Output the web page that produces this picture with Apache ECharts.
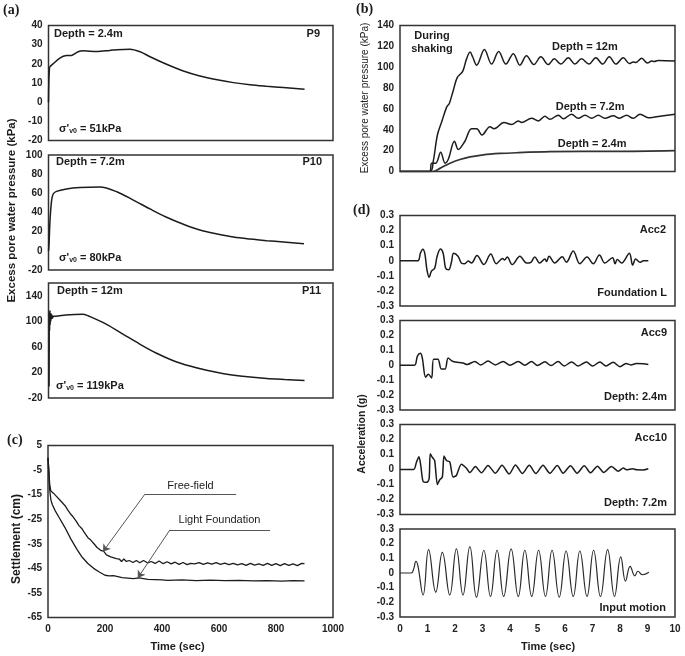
<!DOCTYPE html>
<html><head><meta charset="utf-8">
<style>html,body{margin:0;padding:0;background:#fff}#c{width:685px;height:656px}</style>
<script src="https://cdn.jsdelivr.net/npm/echarts@6/dist/echarts.min.js"></script>
</head><body><div id="c"></div>
<script>
// ---- data ----
const p9Time=[0,1,3,5,16,40,63,81,104,122,169,215,240,286,322,357,415,474,532,593,650,708,767,825,900];
const p9Pressure=[0,10,17,18.5,20,23,24.3,24.4,26.3,26.8,26.4,27,27.4,27.6,26.3,23.7,19.8,16.3,13.7,11.7,10.2,9.1,8.3,7.6,6.7];
const p10Time=[0,2,5,10,16,28,63,110,181,240,298,357,415,474,532,593,650,708,767,825,898];
const p10Pressure=[0,8,30,50,59,62,64.5,66,66.6,61.7,53,43.7,35,27.7,21.7,17.6,14.4,12.3,10.6,9.2,7.4];
const p11Time=[2,3,4,5,6,7,8,9,10,12,14,17,25,60,122,146,204,263,322,380,439,497,556,616,673,767,830,900];
const p11Pressure=[-2,115,85,117,95,112,100,112,104,110,105,108,108,110,111,107.3,95.3,79.7,64,50,38.4,30,23.3,18,14.4,10.5,9,7.5];
const freeTime=[0,3,6,10,14,20,28,32,40,48,52,60,68,72,80,88,92,100,108,112,120,128,132,140,150,155,165,172,178,187,195,205,220,240,250,258,266,275,285,298,310,322,335,350,362,376,390,404,418,432,446,460,474,488,500,515,530,545,560,575,590,605,620,635,650,665,680,695,710,725,740,755,770,785,800,815,830,845,860,875,890,900];
const freeSettlement=[0,-5,-11,-13.5,-14,-14.5,-15.5,-15.3,-17,-18,-17.8,-19.5,-21,-20.8,-23,-24,-24,-26,-27.5,-27,-29,-30.5,-30.3,-32.5,-33.5,-33.3,-35.5,-36.5,-36,-37.8,-38,-39.5,-40.3,-41,-41.2,-42.2,-41.2,-42.2,-41.8,-42.6,-41.8,-42.7,-41.8,-42.8,-42.2,-43,-42,-43.1,-42.3,-43.2,-42.5,-43.4,-42.6,-43.5,-43,-43.2,-42.7,-43.4,-42.8,-43.3,-42.7,-43.4,-42.9,-43.5,-43,-43.6,-43.1,-43.8,-43,-43.7,-43.2,-43.8,-43,-43.8,-43.1,-43.9,-43.1,-43.8,-43.2,-43.9,-43,-43.1];
const lightTime=[0,3,6,10,15,25,40,60,80,100,120,140,160,180,200,215,230,260,300,320,350,400,420,470,520,570,620,670,720,770,820,860,900];
const lightSettlement=[0,-6,-13,-17,-19,-21.5,-24.5,-28.5,-33,-37,-40.5,-43,-45,-46.5,-47.8,-48.1,-48,-48.8,-49.2,-48.9,-49.5,-49.7,-49.9,-49.7,-50,-49.8,-50,-49.9,-50.1,-50,-50.2,-50,-50.1];
const depth12Time=[0,1.09,1.21,1.36,1.52,1.7,1.79,1.94,2.08,2.28,2.42,2.55,2.64,2.79,3.07,3.33,3.59,3.85,4.12,4.36,4.6,4.87,5.12,5.39,5.61,5.85,6.12,6.36,6.6,6.87,7.12,7.37,7.61,7.85,8.12,8.34,8.48,8.58,8.79,9,9.15,9.24,9.39,10];
const depth12Pressure=[0,0,10,35,48,62,65,78,90,96,108,114.5,110,102,117,103,115,103,113,102,111,102.5,110,102.5,108,103,109,103,108,103,109,103,110,103,109,103.5,105,104.5,108.5,104,106,105.5,106.5,106];
const depth72Time=[0,1.07,1.15,1.3,1.48,1.64,1.76,1.98,2.12,2.36,2.6,2.79,2.98,3.27,3.42,3.78,4.06,4.3,4.42,4.79,5.03,5.27,5.45,5.76,5.94,6.24,6.48,6.73,6.97,7.21,7.45,7.76,7.98,8.24,8.48,8.73,9.03,9.21,10];
const depth72Pressure=[0,0,8,8,18.5,8,12,29,21,29,41,41,35,43,41,47,45,48.5,47,51,48.5,53,50,54,50.5,55,51,54,51,54,51,53.5,51,54,51,55,51.5,52,55];
const depth24Time=[0,1.21,1.45,1.82,2.18,2.55,3.03,3.64,4.24,5.45,6.67,7.88,10];
const depth24Pressure=[0,0,3,8,11.5,14,16,17.3,18,19,19.3,19.3,20];
const acc2Time=[0,.65,.74,.83,.9,.98,1.06,1.14,1.26,1.35,1.47,1.57,1.66,1.77,1.87,1.95,2.11,2.23,2.35,2.48,2.6,2.8,3.05,3.3,3.5,3.73,3.8,3.9,4.08,4.36,4.6,4.76,4.9,5.08,5.27,5.33,5.42,5.63,5.9,6.05,6.3,6.54,6.8,7.03,7.25,7.45,7.73,7.82,7.9,8.06,8.34,8.46,8.57,8.73,8.85,9.03];
const acc2Values=[0,0,.05,.077,.05,-.06,-.11,-.07,-.05,.03,.078,.05,-.05,-.06,-.01,.05,.03,-.015,-.02,-.002,-.015,.035,-.025,.045,-.02,.015,.005,.025,-.025,.03,-.015,-.01,.025,-.015,.012,-.005,.03,-.015,.027,-.01,.065,-.02,.025,-.02,.038,-.015,.02,-.02,.008,-.015,.05,-.03,.012,-.01,0,0];
const acc9Time=[0,.53,.63,.74,.81,.93,1.03,1.15,1.22,1.38,1.5,1.64,1.75,1.93,2.29,2.44,2.72,2.94,3.2,3.47,3.75,4,4.3,4.54,4.78,5,5.27,5.49,5.75,5.97,6.24,6.48,6.78,7,7.27,7.49,7.75,8,8.22,8.39,8.6,8.85,9.03];
const acc9Values=[0,0,.06,.08,.05,-.08,-.06,-.085,.04,.04,-.025,-.025,.048,.025,.015,.005,.025,.002,.028,.002,.025,0,.025,0,.025,-.002,.023,-.002,.025,-.005,.022,-.005,.022,-.005,.022,-.005,.02,-.01,.012,.002,.012,.01,.005];
const acc10Time=[0,.5,.6,.69,.76,.84,.98,1.06,1.1,1.18,1.26,1.36,1.44,1.54,1.6,1.69,1.81,1.93,2.05,2.23,2.41,2.54,2.74,2.96,3.2,3.47,3.71,3.97,4.2,4.45,4.7,4.94,5.2,5.45,5.72,5.93,6.2,6.44,6.7,6.93,7.18,7.41,7.69,7.94,8.12,8.24,8.46,8.6,8.85,9.03];
const acc10Values=[0,0,.05,.085,.02,-.08,-.085,-.06,.105,.08,.06,-.1,-.07,-.05,.09,.06,.05,-.05,-.04,.035,.01,-.02,.02,-.022,.027,-.025,.028,-.03,.03,-.027,.028,-.027,.028,-.025,.026,-.025,.025,-.025,.025,-.022,.022,-.02,.02,-.012,.01,-.002,.005,-.002,-.003,.005];
const inputTime=[0,.41,.5,.58,.65,.84,1.04,1.3,1.54,1.81,2.05,2.29,2.54,2.78,3.05,3.29,3.53,3.77,4.04,4.3,4.54,4.79,5.04,5.29,5.53,5.79,6.04,6.3,6.54,6.8,7.04,7.29,7.55,7.8,8.03,8.2,8.37,8.54,8.65,8.82,9.05];
const inputValues=[0,0,.03,.08,.05,-.15,.16,-.13,.14,-.15,.165,-.15,.18,-.165,.155,-.16,.155,-.16,.165,-.16,.155,-.16,.155,-.16,.155,-.165,.15,-.16,.15,-.16,.155,-.16,.16,-.16,.11,-.055,.045,-.02,.012,-.012,.005];

const zip=(a,b)=>a.map((v,i)=>[v,b[i]]);
const INK='#1c1c1c', SANS='"Liberation Sans",Arial,sans-serif', SERIF='"Liberation Serif",serif';

// panel frames, in page pixels: left, top, right, bottom
const panels=[
 {r:[48.5,25.5,333,140.5],x:[0,1000],y:[-20,40],step:10},
 {r:[48.5,155,333,270],x:[0,1000],y:[-20,100],step:20},
 {r:[48.5,283,333,398],x:[0,1000],y:[-20,160],step:40,hideMax:true},
 {r:[48,445.5,333,617.5],x:[0,1000],y:[-65,5],step:10,xlab:true,xstep:200},
 {r:[400,25.5,675,171.5],x:[0,10],y:[0,140],step:20},
 {r:[400,215.5,675,306],x:[0,10],y:[-.3,.3],step:.1},
 {r:[400,320.5,675,410],x:[0,10],y:[-.3,.3],step:.1},
 {r:[400,424.5,675,514.5],x:[0,10],y:[-.3,.3],step:.1},
 {r:[400,529,675,617],x:[0,10],y:[-.3,.3],step:.1,xlab:true,xstep:1}
];
const grid=panels.map(p=>({left:p.r[0],top:p.r[1],width:p.r[2]-p.r[0],height:p.r[3]-p.r[1],show:true,borderColor:'#333',borderWidth:1.5,backgroundColor:'#fff'}));
const tick={color:'#222',fontFamily:SANS,fontWeight:'bold',fontSize:10};
const plain=v=>String(Math.round(v*10)/10);
const xAxis=panels.map((p,i)=>({type:'value',gridIndex:i,min:p.x[0],max:p.x[1],interval:p.xstep||p.x[1],
  axisLine:{show:false},axisTick:{show:false},splitLine:{show:false},
  axisLabel:p.xlab?{...tick,margin:7,hideOverlap:false,showMinLabel:true,showMaxLabel:true,formatter:plain}:{show:false}}));
const yAxis=panels.map((p,i)=>({type:'value',gridIndex:i,min:p.y[0],max:p.y[1],interval:p.step,
  axisLine:{show:false},axisTick:{show:false},splitLine:{show:false},
  axisLabel:{...tick,margin:6,showMaxLabel:!p.hideMax,showMinLabel:true,formatter:plain}}));

const line=(i,name,t,v,extra)=>Object.assign({type:'line',name,xAxisIndex:i,yAxisIndex:i,data:zip(t,v),symbol:'none',
  lineStyle:{color:INK,width:1.5},animation:false,silent:true},extra||{});
const leader=(pts)=>({silent:true,animation:false,symbol:'none',label:{show:false},
  lineStyle:{color:'#555',width:1,type:'solid'},data:pts});
const settleLine={lineStyle:{color:INK,width:1.3}};
const series=[
 line(0,'P9',p9Time,p9Pressure,{smooth:.3}),
 line(1,'P10',p10Time,p10Pressure,{smooth:.3}),
 line(2,'P11',p11Time,p11Pressure,{smooth:.25}),
 line(3,'Free-field',freeTime,freeSettlement,{...settleLine,markLine:leader([
   [{coord:[660,-14.8],symbol:'none'},{coord:[340,-14.8],symbol:'none'}],
   [{coord:[340,-14.8],symbol:'none'},{coord:[193,-38.2],symbol:'arrow',symbolSize:7}]
 ])}),
 line(3,'Light Foundation',lightTime,lightSettlement,{...settleLine,markLine:leader([
   [{coord:[779,-29.3],symbol:'none'},{coord:[428,-29.3],symbol:'none'}],
   [{coord:[428,-29.3],symbol:'none'},{coord:[315,-48.9],symbol:'arrow',symbolSize:7}]
 ])}),
 line(4,'Depth = 12m',depth12Time,depth12Pressure,{smooth:.35}),
 line(4,'Depth = 7.2m',depth72Time,depth72Pressure,{smooth:.35}),
 line(4,'Depth = 2.4m',depth24Time,depth24Pressure,{smooth:.3,lineStyle:{color:'#333',width:1.7}}),
 line(5,'Acc2',acc2Time,acc2Values,{smooth:.35}),
 line(6,'Acc9',acc9Time,acc9Values,{smooth:.3}),
 line(7,'Acc10',acc10Time,acc10Values,{smooth:.25}),
 line(8,'Input motion',inputTime,inputValues,{smooth:.45,lineStyle:{color:'#2a2a2a',width:1.2}})
];

// text labels
const txt=(s,x,y,o={})=>({type:'text',x,y,rotation:o.rot?Math.PI/2:0,silent:true,z:10,
  style:{text:s,fill:'#1c1c1c',font:`${o.w||'bold'} ${o.size||11}px ${o.fam||SANS}`,
    textAlign:o.align||'left',textVerticalAlign:'middle',textBaseline:'middle',rich:o.rich}});
const sigmaRich={a:{font:`bold 11px ${SANS}`,fill:'#1c1c1c'},b:{font:`bold 7px ${SANS}`,fill:'#1c1c1c',verticalAlign:'bottom',padding:[5,0,0,0]}};
const sigma=(kpa,x,y)=>txt(`{a|σ'}{b|v0}{a| = ${kpa}kPa}`,x,y,{rich:sigmaRich});
const R={align:'right'}, panelLetter={fam:SERIF,size:14};
const graphic=[
 txt('(a)',3,10,panelLetter),txt('(b)',356,9,panelLetter),txt('(c)',7,440,panelLetter),txt('(d)',353,210,panelLetter),
 txt('Depth = 2.4m',54,33.5),txt('P9',320,33.5,R),sigma(51,59,129),
 txt('Depth = 7.2m',56,162),txt('P10',322,162,R),sigma(80,59,258),
 txt('Depth = 12m',57,291),txt('P11',321,291,R),sigma(119,56,386),
 txt('Free-field',190.5,486,{w:'normal',align:'center'}),
 txt('Light Foundation',219.5,520,{w:'normal',align:'center'}),
 txt('During',432,36,{align:'center'}),txt('shaking',432,49,{align:'center'}),
 txt('Depth = 12m',552,47),txt('Depth = 7.2m',555.7,106.7),txt('Depth = 2.4m',557.7,144),
 txt('Acc2',666,230,R),txt('Foundation L',667,293,R),
 txt('Acc9',667,332.7,R),txt('Depth: 2.4m',667,397,R),
 txt('Acc10',667,438,R),txt('Depth: 7.2m',667,502.7,R),
 txt('Input motion',666,608,R),
 txt('Excess pore water pressure (kPa)',12,210.5,{rot:1,size:11.5,align:'center'}),
 txt('Settlement (cm)',17,539,{rot:1,size:12,align:'center'}),
 txt('Excess pore water pressure (kPa)',365.7,98,{rot:1,size:10,w:'normal',align:'center'}),
 txt('Acceleration (g)',362,434,{rot:1,size:10.5,align:'center'}),
 txt('Time (sec)',177.5,646.7,{align:'center'}),
 txt('Time (sec)',548,646.7,{align:'center'})
];
const chart=echarts.init(document.getElementById('c'),null,{renderer:'canvas'});
chart.setOption({animation:false,backgroundColor:'#fff',grid,xAxis,yAxis,series,graphic});
</script></body></html>
